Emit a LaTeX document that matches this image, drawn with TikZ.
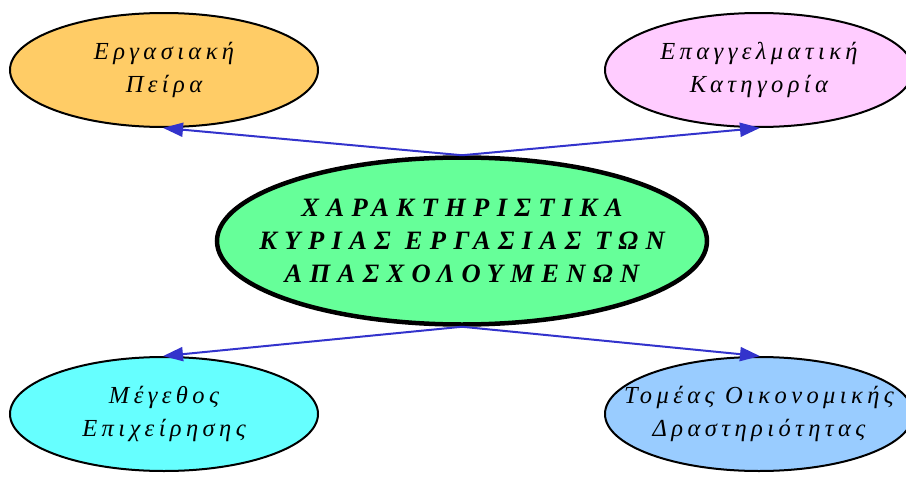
\documentclass[tikz,border=0pt]{standalone}
\usepackage{fontspec}
\setmainfont{Liberation Serif}
\newfontfamily\gfont[LetterSpace=18]{Liberation Serif}
\newfontfamily\gmfont[LetterSpace=28]{Liberation Serif}
\usetikzlibrary{shapes.geometric,arrows.meta}
\definecolor{cmain}{HTML}{66FF99}
\definecolor{ctl}{HTML}{FFCC66}
\definecolor{ctr}{HTML}{FFCCFF}
\definecolor{cbl}{HTML}{66FFFF}
\definecolor{cbr}{HTML}{99CCFF}
\definecolor{cedge}{HTML}{3333CC}
\tikzset{
  outer/.style={ellipse, draw=black, line width=2pt, minimum width=308pt, minimum height=114pt, inner xsep=-60pt, inner ysep=-20pt, align=center,
    font={\gfont\itshape\fontsize{24.5}{33}\selectfont}},
  mainnode/.style={ellipse, draw=black, line width=4.5pt, fill=cmain, minimum width=490pt, minimum height=167pt, inner xsep=-60pt, inner ysep=-20pt, align=center,
    font={\gmfont\bfseries\itshape\fontsize{26.5}{33}\selectfont}},
  edge/.style={draw=cedge, line width=2pt, -{Triangle[length=20pt,width=14pt]}, shorten >=-1pt}
}
\begin{document}
\begin{tikzpicture}[x=1pt,y=-1pt]
\useasboundingbox (0,0) rectangle (906,479);
\node[mainnode] (c) at (462,241) {ΧΑΡΑΚΤΗΡΙΣΤΙΚΑ\\ΚΥΡΙΑΣ ΕΡΓΑΣΙΑΣ ΤΩΝ\\ΑΠΑΣΧΟΛΟΥΜΕΝΩΝ};
\node[outer, fill=ctl] (tl) at (164,70) {Εργασιακή\\Πείρα};
\node[outer, fill=ctr] (tr) at (759,70) {Επαγγελματική\\Κατηγορία};
\node[outer, fill=cbl] (bl) at (164,414) {Μέγεθος\\Επιχείρησης};
\node[outer, fill=cbr] (br) at (759,414) {Τομέας Οικονομικής\\Δραστηριότητας};
\draw[edge] (c.north) -- (tl.south);
\draw[edge] (c.north) -- (tr.south);
\draw[edge] (c.south) -- (bl.north);
\draw[edge] (c.south) -- (br.north);
\end{tikzpicture}
\end{document}
